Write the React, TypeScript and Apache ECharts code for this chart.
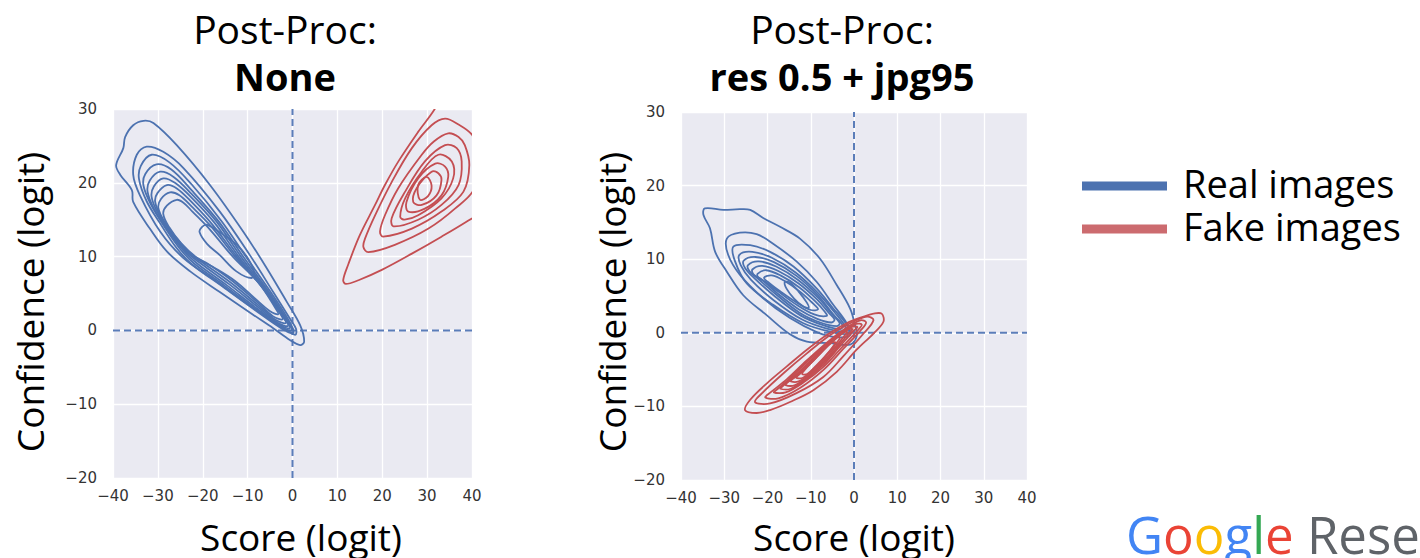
import React, { useEffect, useRef } from 'react';
import * as echarts from 'echarts';

const X_TICKS = [-40, -30, -20, -10, 0, 10, 20, 30, 40];
const Y_TICKS = [-20, -10, 0, 10, 20, 30];
const PANEL_TITLES = ['Post-Proc:', 'Post-Proc:'];
const PANEL_SUBTITLES = ['None', 'res 0.5 + jpg95'];
const X_NAME = 'Score (logit)';
const Y_NAME = 'Confidence (logit)';
const LEGEND_NAMES = ['Real images', 'Fake images'];

// KDE contour lines, [score, confidence] pairs
const realNone: number[][][] = [
  [[-33.2, 28.4], [-35.5, 27.8], [-37.3, 26.2], [-37.7, 24.7], [-39.3, 22.4], [-38.4, 21.1], [-35.8, 19.0], [-35.5, 17.4], [-31.8, 13.8], [-28.0, 10.7], [-22.8, 8.0], [-16.2, 5.2], [-8.7, 2.1], [-4.3, 0.3], [-0.6, -1.3], [1.7, -2.0], [2.6, -1.5], [1.7, 0.7], [-1.3, 3.9], [-5.7, 8.4], [-11.0, 13.4], [-18.4, 19.7], [-25.8, 25.1], [-31.0, 28.1]],
  [[-32.5, 24.9], [-34.7, 23.8], [-35.5, 21.1], [-34.0, 18.3], [-29.5, 13.4], [-24.3, 9.8], [-16.9, 6.6], [-8.7, 3.0], [-2.0, 0.3], [0.6, -0.6], [0.8, 0.2], [-0.6, 1.6], [-4.3, 5.2], [-9.5, 10.2], [-16.2, 16.1], [-24.3, 22.0], [-28.8, 24.2]],
  [[-31.4, 23.8], [-33.8, 22.3], [-34.2, 20.5], [-32.5, 17.5], [-29.5, 14.5], [-26.0, 11.3], [-22.5, 9.0], [-15.5, 5.9], [-8.0, 2.6], [-2.0, 0.1], [0.2, -0.3], [-0.6, 1.1], [-4.2, 4.6], [-10.4, 10.0], [-15.8, 14.8], [-22.5, 19.8], [-27.5, 22.8]],
  [[-30.3, 22.5], [-32.8, 21.2], [-33.2, 19.6], [-31.5, 17.0], [-28.5, 14.0], [-25.0, 11.0], [-21.8, 9.0], [-15.0, 6.0], [-8.0, 2.8], [-2.3, 0.4], [-0.2, 0.0], [-1.0, 1.2], [-4.8, 4.8], [-11.0, 10.0], [-16.5, 14.8], [-22.5, 19.0], [-27.0, 21.8]],
  [[-29.5, 21.5], [-31.8, 20.3], [-32.3, 18.8], [-30.8, 16.4], [-27.8, 13.6], [-24.3, 10.8], [-21.1, 9.0], [-14.6, 6.1], [-8.0, 3.0], [-2.7, 0.7], [-0.6, 0.3], [-1.4, 1.4], [-5.3, 5.0], [-11.5, 10.0], [-17.0, 14.8], [-22.5, 18.5], [-26.5, 20.8]],
  [[-28.8, 20.6], [-30.9, 19.5], [-31.4, 18.1], [-30.0, 15.9], [-27.1, 13.2], [-23.6, 10.6], [-20.3, 9.0], [-14.2, 6.3], [-8.0, 3.3], [-3.2, 1.0], [-1.0, 0.6], [-1.8, 1.6], [-5.8, 5.2], [-12.0, 10.0], [-17.4, 14.6], [-22.5, 18.0], [-26.2, 20.0]],
  [[-28.0, 19.7], [-30.1, 18.6], [-30.6, 17.4], [-29.2, 15.3], [-26.4, 12.8], [-23.0, 10.4], [-19.6, 9.0], [-13.8, 6.5], [-8.0, 3.6], [-3.7, 1.4], [-1.5, 1.0], [-2.3, 2.0], [-6.3, 5.5], [-12.4, 10.0], [-17.8, 14.3], [-22.5, 17.4], [-25.7, 19.2]],
  [[-27.3, 18.7], [-29.3, 17.8], [-29.9, 16.6], [-28.5, 14.7], [-25.7, 12.4], [-22.3, 10.2], [-18.8, 9.0], [-13.4, 6.7], [-8.2, 4.0], [-4.3, 1.9], [-2.2, 1.5], [-3.0, 2.5], [-6.8, 5.9], [-12.8, 10.0], [-18.0, 14.0], [-22.5, 16.8], [-25.2, 18.3]],
  [[-25.8, 17.7], [-28.0, 16.9], [-28.8, 15.8], [-27.5, 14.0], [-24.8, 11.8], [-21.2, 9.8], [-17.7, 8.6], [-12.8, 6.7], [-8.5, 4.4], [-5.0, 2.6], [-3.2, 2.2], [-3.9, 3.1], [-7.5, 6.4], [-13.3, 10.0], [-18.3, 13.6], [-22.3, 16.1], [-24.3, 17.3]],
  [[-20.2, 14.0], [-20.7, 13.3], [-19.0, 11.7], [-16.2, 10.2], [-12.5, 8.0], [-9.1, 7.1], [-8.6, 8.0], [-10.2, 10.0], [-12.4, 11.6], [-16.0, 13.2], [-19.0, 14.3]],
];

const fakeNone: number[][][] = [
  [[36.0, 35.0], [31.8, 30.1], [28.0, 26.9], [23.6, 22.9], [20.6, 19.7], [18.4, 17.0], [15.0, 12.9], [12.4, 8.9], [11.3, 6.8], [11.9, 6.3], [14.7, 6.8], [19.9, 8.2], [26.6, 10.4], [33.2, 12.7], [39.2, 14.9], [43.0, 16.5], [44.0, 26.0], [41.0, 33.0]],
  [[34.0, 28.7], [31.0, 27.8], [26.6, 24.7], [22.1, 20.1], [18.4, 15.6], [16.2, 12.5], [15.8, 11.3], [16.9, 10.6], [22.8, 11.6], [30.3, 13.8], [36.2, 16.5], [40.5, 19.2], [41.5, 24.0], [40.0, 26.5], [37.0, 27.9]],
  [[34.7, 26.7], [31.5, 25.6], [28.8, 23.8], [23.6, 19.3], [20.6, 15.6], [19.5, 13.4], [20.2, 12.7], [26.6, 13.8], [33.2, 16.1], [38.1, 18.8], [39.4, 22.4], [38.4, 25.1], [37.0, 26.2]],
  [[34.0, 25.1], [29.5, 22.9], [25.1, 18.8], [22.1, 15.2], [22.5, 14.1], [28.0, 15.0], [33.2, 17.0], [37.0, 19.7], [37.7, 22.9], [36.6, 24.7]],
  [[32.5, 23.8], [28.8, 21.5], [25.1, 17.9], [24.0, 15.4], [25.0, 15.0], [28.0, 15.6], [33.2, 17.9], [35.8, 20.6], [35.5, 22.9]],
  [[31.8, 22.6], [28.0, 20.6], [25.4, 17.4], [25.8, 16.1], [29.5, 16.5], [33.2, 18.3], [34.7, 20.8], [34.0, 22.2]],
  [[31.0, 21.5], [27.7, 19.3], [26.9, 17.4], [28.8, 17.0], [32.1, 18.3], [33.2, 20.4], [32.5, 21.3]],
  [[29.9, 20.8], [28.0, 19.7], [28.4, 17.7], [30.2, 18.2], [31.0, 19.6]],
];

const realJpg: number[][][] = [
  [[-34.8, 16.0], [-34.5, 16.9], [-30.2, 16.7], [-26.4, 16.8], [-24.0, 16.7], [-21.0, 15.6], [-17.1, 14.4], [-12.5, 12.8], [-7.9, 10.1], [-4.0, 6.5], [-0.9, 3.3], [0.2, 1.1], [0.6, -0.5], [-0.9, -1.6], [-5.5, -1.4], [-10.9, -1.2], [-14.8, -0.2], [-20.2, 2.4], [-25.6, 5.1], [-29.4, 8.3], [-32.1, 11.0], [-33.3, 14.2]],
  [[-29.4, 12.8], [-26.4, 13.6], [-22.5, 13.4], [-18.7, 12.1], [-13.3, 9.7], [-8.6, 6.9], [-4.8, 3.8], [-1.7, 1.3], [-0.9, -0.3], [-4.0, -0.6], [-8.6, 0.1], [-14.8, 2.0], [-21.0, 4.7], [-26.4, 7.9], [-29.1, 10.6]],
  [[-27.9, 11.7], [-24.0, 11.9], [-19.4, 11.0], [-14.0, 9.0], [-8.6, 6.0], [-4.8, 3.3], [-1.7, 1.1], [-1.3, -0.1], [-5.5, 0.15], [-11.7, 1.3], [-18.7, 3.8], [-24.8, 6.7], [-27.5, 9.7]],
  [[-26.5, 10.6], [-23.5, 11.0], [-19.0, 10.2], [-13.5, 8.2], [-8.3, 5.4], [-4.5, 2.8], [-2.0, 0.8], [-2.5, 0.2], [-6.5, 0.6], [-12.0, 1.8], [-18.5, 4.4], [-23.8, 7.2], [-26.2, 9.2]],
  [[-25.5, 9.8], [-22.8, 10.3], [-18.5, 9.6], [-13.2, 7.7], [-8.2, 5.0], [-4.8, 2.5], [-2.6, 1.0], [-3.2, 0.5], [-7.0, 1.0], [-12.2, 2.3], [-18.2, 4.9], [-23.0, 7.4], [-25.2, 8.8]],
  [[-24.5, 9.2], [-22.0, 9.7], [-18.0, 9.0], [-13.0, 7.2], [-8.2, 4.7], [-5.0, 2.5], [-3.3, 1.3], [-4.0, 0.9], [-7.8, 1.4], [-12.5, 2.7], [-18.0, 5.2], [-22.3, 7.4], [-24.2, 8.4]],
  [[-23.5, 8.6], [-21.2, 9.1], [-17.5, 8.4], [-12.8, 6.7], [-8.5, 4.5], [-5.8, 2.7], [-4.5, 1.8], [-5.2, 1.4], [-8.5, 1.9], [-12.8, 3.2], [-17.8, 5.4], [-21.5, 7.3], [-23.2, 7.9]],
  [[-22.3, 8.0], [-20.3, 8.5], [-17.0, 7.8], [-12.7, 6.2], [-9.0, 4.3], [-6.8, 2.9], [-6.3, 2.3], [-9.2, 2.5], [-13.0, 3.7], [-17.5, 5.6], [-20.7, 7.0], [-22.1, 7.5]],
  [[-20.8, 7.5], [-19.0, 7.8], [-16.2, 7.1], [-12.5, 5.6], [-9.5, 4.0], [-8.3, 3.2], [-10.0, 3.1], [-13.2, 4.1], [-17.0, 5.6], [-19.7, 6.8]],
  [[-16.0, 6.9], [-14.8, 6.8], [-12.8, 5.6], [-10.9, 4.1], [-10.5, 3.4], [-11.8, 3.6], [-13.8, 4.6], [-15.6, 6.0]],
];

const fakeJpg: number[][][] = [
  [[-25.2, -10.5], [-22.5, -10.9], [-19.4, -10.5], [-14.8, -9.4], [-9.4, -7.8], [-4.0, -5.3], [0.6, -2.3], [4.5, -0.1], [6.8, 1.5], [6.4, 2.6], [4.5, 2.6], [2.2, 2.2], [-1.7, 1.3], [-6.3, -0.3], [-10.9, -2.3], [-15.6, -4.6], [-20.2, -6.9], [-24.0, -9.1]],
  [[-22.9, -9.4], [-19.4, -9.6], [-13.3, -8.2], [-7.1, -6.0], [-2.5, -3.2], [2.2, -0.1], [4.5, 1.7], [3.0, 2.2], [-0.9, 1.3], [-5.5, -0.3], [-10.9, -2.8], [-16.3, -5.5], [-20.9, -8.0]],
  [[-20.5, -8.8], [-17.5, -8.9], [-12.5, -7.5], [-7.0, -5.0], [-2.5, -2.2], [1.5, 0.3], [2.8, 1.4], [1.5, 1.7], [-1.5, 0.8], [-6.0, -1.2], [-11.0, -3.8], [-15.5, -6.3], [-19.3, -8.1]],
  [[-18.5, -8.1], [-15.8, -8.1], [-11.8, -6.8], [-7.0, -4.6], [-3.0, -2.1], [0.8, 0.3], [1.8, 1.1], [0.5, 1.2], [-2.5, 0.2], [-6.5, -1.6], [-11.0, -4.0], [-14.8, -6.2], [-17.6, -7.6]],
  [[-17.0, -7.6], [-14.6, -7.6], [-11.0, -6.3], [-7.0, -4.3], [-3.5, -2.0], [-0.2, 0.2], [0.8, 0.8], [-0.5, 0.8], [-3.3, -0.3], [-7.0, -2.0], [-10.8, -4.2], [-14.2, -6.1], [-16.4, -7.2]],
  [[-15.8, -7.1], [-13.6, -7.1], [-10.5, -5.9], [-7.0, -4.0], [-3.8, -1.9], [-1.2, -0.1], [-0.3, 0.5], [-1.5, 0.4], [-4.0, -0.7], [-7.3, -2.4], [-10.8, -4.4], [-13.7, -6.0], [-15.3, -6.7]],
  [[-14.6, -6.6], [-12.8, -6.6], [-10.0, -5.5], [-7.0, -3.8], [-4.2, -1.9], [-2.2, -0.4], [-1.5, 0.1], [-2.6, 0.0], [-4.8, -1.0], [-7.6, -2.7], [-10.6, -4.5], [-13.0, -5.8], [-14.3, -6.3]],
  [[-13.4, -6.1], [-11.8, -6.1], [-9.5, -5.0], [-7.0, -3.5], [-4.8, -1.9], [-3.3, -0.8], [-3.6, -0.5], [-5.5, -1.4], [-8.0, -2.9], [-10.6, -4.4], [-12.6, -5.6]],
  [[-12.0, -5.6], [-10.8, -5.6], [-8.8, -4.5], [-6.7, -3.2], [-5.0, -2.0], [-4.3, -1.3], [-5.3, -1.4], [-7.3, -2.5], [-9.6, -3.9], [-11.5, -5.1]],
  [[-8.2, -4.6], [-7.2, -4.4], [-5.2, -3.0], [-3.4, -1.8], [-3.2, -1.5], [-4.6, -2.0], [-6.3, -3.0], [-7.8, -4.1]],
];

const BLUE = '#4C72B0';
const RED = '#C44E52';
const BIG_FONT = '"Open Sans", "Noto Sans", sans-serif';
const TICK_FONT = '"DejaVu Sans", sans-serif';

const GRIDS = [
  { left: 113, top: 109, width: 359, height: 369 },
  { left: 681, top: 112, width: 346, height: 368 },
];

function contourSeries(contours: number[][][], color: string, gi: number) {
  return {
    type: 'custom',
    xAxisIndex: gi,
    yAxisIndex: gi,
    clip: true,
    silent: true,
    z: 3,
    data: contours.map((c) => c[0]),
    renderItem: (params: any, api: any) => {
      const pts = contours[params.dataIndex].map((p) => api.coord(p));
      const cs = params.coordSys;
      return {
        type: 'polygon',
        shape: { points: pts, smooth: 0.35 },
        style: { fill: 'none', stroke: color, lineWidth: 1.8 },
        clipPath: { type: 'rect', shape: { x: cs.x, y: cs.y, width: cs.width, height: cs.height } },
      };
    },
  };
}

function dashSeries(gi: number, data: number[][]) {
  return {
    type: 'line',
    xAxisIndex: gi,
    yAxisIndex: gi,
    data,
    symbol: 'none',
    silent: true,
    z: 2,
    lineStyle: { type: [7, 4], width: 2, color: '#5B7DB9' },
  };
}

const fmt = (v: number) => String(v).replace('-', '\u2212');

export default function App() {
  const ref = useRef<HTMLDivElement>(null);
  useEffect(() => {
    if (!ref.current) return;
    const chart = echarts.init(ref.current, undefined, { renderer: 'svg' });
    const xMin = X_TICKS[0], xMax = X_TICKS[X_TICKS.length - 1];
    const yMin = Y_TICKS[0], yMax = Y_TICKS[Y_TICKS.length - 1];
    const axisCommon = {
      axisLine: { show: false },
      axisTick: { show: false },
      splitLine: { show: true, lineStyle: { color: '#FFFFFF', width: 1.3 } },
    };
    const xAxes = GRIDS.map((_, i) => ({
      type: 'value', gridIndex: i, min: xMin, max: xMax, interval: 10,
      ...axisCommon,
      axisLabel: { formatter: fmt, color: '#333', fontSize: 15, fontFamily: TICK_FONT, margin: 10 },
    }));
    const yAxes = GRIDS.map((_, i) => ({
      type: 'value', gridIndex: i, min: yMin, max: yMax, interval: 10,
      ...axisCommon,
      axisLabel: { formatter: fmt, color: '#333', fontSize: 15, fontFamily: TICK_FONT, margin: 16 },
    }));
    const titleX = [285, 842];
    const nameX = [301, 854];
    const yNameX = [29, 611];
    const graphic: any[] = [];
    for (let i = 0; i < 2; i++) {
      graphic.push({ type: 'text', x: titleX[i], y: 28, style: { text: PANEL_TITLES[i], align: 'center', verticalAlign: 'middle', font: `39px ${BIG_FONT}`, lineHeight: 42, fill: '#000' } });
      graphic.push({ type: 'text', x: titleX[i], y: 76, style: { text: PANEL_SUBTITLES[i], align: 'center', verticalAlign: 'middle', font: `bold 38px ${BIG_FONT}`, lineHeight: 42, fill: '#000' } });
      graphic.push({ type: 'text', x: nameX[i], y: 536, style: { text: X_NAME, align: 'center', verticalAlign: 'middle', font: `37px ${BIG_FONT}`, lineHeight: 40, fill: '#000' } });
      graphic.push({ type: 'text', x: yNameX[i], y: 302, rotation: Math.PI / 2, style: { text: Y_NAME, align: 'center', verticalAlign: 'middle', font: `37px ${BIG_FONT}`, lineHeight: 40, fill: '#000' } });
    }
    const legendColors = ['#4C72B0', '#CC6B6F'];
    const legendY = [186, 229];
    LEGEND_NAMES.forEach((n, i) => {
      graphic.push({ type: 'rect', shape: { x: 1082, y: legendY[i] - 4.5, width: 85, height: 9 }, style: { fill: legendColors[i] } });
      graphic.push({ type: 'text', x: 1183, y: legendY[i] - 3, style: { text: n, align: 'left', verticalAlign: 'middle', font: `38px ${BIG_FONT}`, lineHeight: 40, fill: '#000' } });
    });
    const gf = `51px ${BIG_FONT}`;
    graphic.push({
      type: 'text', x: 1126, y: 534,
      style: {
        text: '{b|G}{r|o}{y|o}{b|g}{g|l}{r|e} {k|Research}',
        verticalAlign: 'middle',
        font: gf,
        lineHeight: 46,
        rich: {
          b: { fill: '#4285F4', font: gf, lineHeight: 46 },
          r: { fill: '#EA4335', font: gf, lineHeight: 46 },
          y: { fill: '#FBBC05', font: gf, lineHeight: 46 },
          g: { fill: '#34A853', font: gf, lineHeight: 46 },
          k: { fill: '#5F6368', font: gf, lineHeight: 46 },
        },
      },
    });
    chart.setOption({
      animation: false,
      backgroundColor: '#FFFFFF',
      grid: GRIDS.map((g) => ({ ...g, show: true, backgroundColor: '#EAEAF2', borderWidth: 0 })),
      xAxis: xAxes,
      yAxis: yAxes,
      series: [
        dashSeries(0, [[0, yMin], [0, yMax]]),
        dashSeries(0, [[xMin, 0], [xMax, 0]]),
        dashSeries(1, [[0, yMin], [0, yMax]]),
        dashSeries(1, [[xMin, 0], [xMax, 0]]),
        contourSeries(realNone, BLUE, 0),
        contourSeries(fakeNone, RED, 0),
        contourSeries(realJpg, BLUE, 1),
        contourSeries(fakeJpg, RED, 1),
      ],
      graphic,
    });
    return () => chart.dispose();
  }, []);
  return <div ref={ref} style={{ position: 'absolute', left: 0, top: 0, width: 1420, height: 558 }} />;
}
